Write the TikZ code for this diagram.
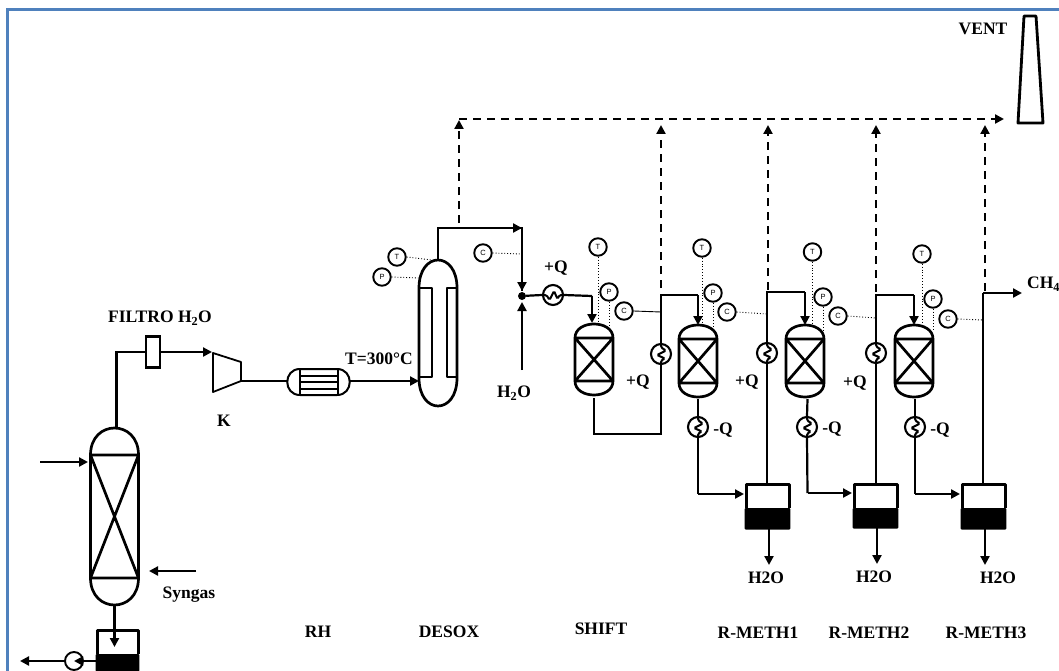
\documentclass[tikz,border=0pt]{standalone}
\usepackage{fontspec}
\setmainfont{Liberation Serif}
\newfontfamily\instfont{Liberation Sans}
\usetikzlibrary{arrows.meta,calc}
\definecolor{frameblue}{HTML}{4F81BD}
\tikzset{
  pipe/.style={line width=2.2pt,line join=miter,black},
  tip/.style={-{Triangle[length=9pt,width=9pt]}},
  dashline/.style={line width=2.2pt,dash pattern=on 8pt off 6pt,black},
  sig/.style={line width=0.9pt,dotted,black},
  wall/.style={line width=2.7pt,black,line join=round},
  lab/.style={font=\fontsize{17.5}{20}\selectfont\bfseries,inner sep=0pt,text=black},
  inst/.style={circle,draw=black,line width=1.9pt,minimum size=17.5pt,inner sep=0pt,fill=white,
     font=\instfont\fontsize{7.5}{8}\selectfont},
  hxc/.style={circle,draw=black,line width=2.1pt,minimum size=20pt,inner sep=0pt,fill=white},
  zig/.style={line width=2pt,black,rounded corners=1.5pt},
  box/.style={rectangle,inner sep=0pt,outer sep=0pt}
}
\newcommand\il[1]{\raisebox{-1.6pt}{#1}}
% capsule: name, cx, top, bottom, half width, dome height
\newcommand\vesselbox[6]{%
  \pgfmathsetmacro\vl{#2-#5}\pgfmathsetmacro\vr{#2+#5}%
  \pgfmathsetmacro\va{#3+#6}\pgfmathsetmacro\vb{#4-#6}%
  \pgfmathsetmacro\vta{#3-#6/3}\pgfmathsetmacro\vtb{#4+#6/3}%
  \pgfmathsetmacro\vh{#4-#3}\pgfmathsetmacro\vcy{(#3+#4)/2}\pgfmathsetmacro\vw{2*#5}%
  \node[box,minimum width=\vw pt,minimum height=\vh pt] (#1) at (#2,\vcy) {};
  \draw[wall,fill=white] (\vl,\va) .. controls (\vl,\vta) and (\vr,\vta) .. (\vr,\va)
     -- (\vr,\vb) .. controls (\vr,\vtb) and (\vl,\vtb) .. (\vl,\vb) -- cycle;
}
% packed bed reactor: name, cx, top, bottom, half width, dome height
\newcommand\reactor[6]{%
  \vesselbox{#1}{#2}{#3}{#4}{#5}{#6}
  \draw[wall] (\vl,\va) -- (\vr,\va) (\vl,\vb) -- (\vr,\vb)
     (\vl,\va) -- (\vr,\vb) (\vr,\va) -- (\vl,\vb);
}
% drum: name, left, top, right, bottom, liquid top
\newcommand\drum[6]{%
  \pgfmathsetmacro\dw{#4-#2}\pgfmathsetmacro\dh{#5-#3}%
  \pgfmathsetmacro\dx{(#2+#4)/2}\pgfmathsetmacro\dy{(#3+#5)/2}%
  \node[box,minimum width=\dw pt,minimum height=\dh pt] (#1) at (\dx,\dy) {};
  \fill[black,rounded corners=1pt] (#2-1.4,#6) rectangle (#4+1.4,#5+0.5);
  \draw[line width=3pt,black,line join=round] (#2,#6) -- (#2,#3) -- (#4,#3) -- (#4,#6);
}
% exchanger circle with a vertical zigzag
\newcommand\hxv[3]{%
  \node[hxc] (#1) at (#2,#3) {};
  \draw[zig] (#1.north) -- ($(#1)+(0,-6.5)$) -- ($(#1)+(5,-3.5)$) -- ($(#1)+(-4,1)$) -- ($(#1)+(4,4.5)$) -- ($(#1)+(0,6.5)$) -- (#1.south);
}
\newcommand\hxh[3]{%
  \node[hxc] (#1) at (#2,#3) {};
  \draw[zig] (#1.west) -- ($(#1)+(-6.5,0)$) -- ($(#1)+(-3.5,5)$) -- ($(#1)+(1,-4)$) -- ($(#1)+(4.5,4)$) -- ($(#1)+(6.5,0)$) -- (#1.east);
}
\begin{document}
\begin{tikzpicture}[x=1pt,y=-1pt]
\useasboundingbox (0,0) rectangle (1059,671);
\fill[white] (0,0) rectangle (1059,671);
\draw[line width=2.4pt,frameblue] (7.5,671) -- (7.5,9.5) -- (1059,9.5);

% --- column and its drum
\reactor{col}{114.5}{428}{605}{24}{27}
\drum{d0}{97}{630}{138}{671}{654}
\node[inst,minimum size=18pt] (pu) at (74,661) {};
\coordinate (colin) at (40,462);
\coordinate (colina) at (88,462);
\coordinate (colout) at (20,661);
\coordinate (syn) at (196,571);
\coordinate (syna) at (149,571);
\coordinate (d0in) at (114.5,647);
\draw[pipe,tip] (colin) -- (colina);
\draw[pipe,tip] (syn) -- (syna);
\draw[pipe,tip] (col.south) -- (d0in);
\draw[pipe,tip] (d0.west |- pu) -- (pu.center);
\draw[pipe,tip] (pu.west) -- (colout);

% --- filter, compressor, heater
\node[box,draw=black,line width=2.7pt,minimum width=14pt,minimum height=31pt,fill=white] (fil) at (153,352) {};
\coordinate (coltop) at (116.5,428);
\coordinate (b0) at (116.5,352);
\draw[pipe] (coltop) -- (b0) -- (fil.west);
\node[box,minimum width=28pt,minimum height=39pt] (comp) at (227,372) {};
\draw[line width=1.8pt,black,line join=round] (213,353) -- (241,362) -- (241,381) -- (213,392) -- cycle;
\coordinate (compin) at (212,352);
\coordinate (compout) at (241,381);
\draw[pipe,tip] (fil.east) -- (compin);
\node[box,minimum width=63pt,minimum height=26pt] (rh) at (318.5,382) {};
\draw[line width=2pt,black,fill=white] (300,369) -- (337,369) .. controls (354,369) and (354,395) .. (337,395)
  -- (300,395) .. controls (283,395) and (283,369) .. (300,369) -- cycle;
\draw[line width=2pt,black] (300,369) -- (300,395) (338,369) -- (338,395)
  (300,376) -- (338,376) (300,382) -- (338,382) (300,388.5) -- (338,388.5);
\coordinate (rhin) at (287,381);
\coordinate (rhout) at (350,381);
\draw[pipe] (compout) -- (rhin);

% --- desulphuriser
\vesselbox{dx}{438}{260}{406}{19}{28}
\draw[wall] (419,288) -- (432,288) -- (432,377) -- (419,377) (457,288) -- (447,288) -- (447,377) -- (457,377);
\coordinate (dxin) at (419,381);
\draw[pipe,tip] (rhout) -- (dxin);
\coordinate (b1) at (438,228);
\coordinate (b2) at (522,228);
\coordinate (mixt) at (522,291);
\coordinate (w) at (522,370);
\coordinate (wa) at (522,302);
\node[circle,fill=black,minimum size=8pt,inner sep=0pt] (mix) at (522,296) {};
\draw[pipe] (dx.north) -- (b1) -- (b2) -- (mixt);
\draw[pipe,tip] (b1) -- (b2);
\draw[pipe,tip] (b2) -- (mixt);
\draw[pipe,tip] (w) -- (wa);
\node[inst] (tx) at (397,257) {\il{T}};
\node[inst] (px) at (382,277) {\il{P}};
\node[inst] (cx) at (483,253) {\il{C}};
\coordinate (txe) at (432,260);
\coordinate (pxe) at (419,278);
\coordinate (cxe) at (522,254);
\draw[sig] (tx.east) -- (txe);
\draw[sig] (px.east) -- (pxe);
\draw[sig] (cx.east) -- (cxe);

% --- reactors
\reactor{r1}{594}{324}{395}{19}{14}
\reactor{r2}{698}{325}{397}{19}{14}
\reactor{r3}{805}{325}{397}{19}{14}
\reactor{r4}{914}{325}{397}{19}{14}

% --- shift stage
\hxh{h0}{553}{295}
\coordinate (a0) at (592,296);
\coordinate (a0e) at (592,323);
\draw[pipe] (mix) -- (h0.west);
\draw[pipe] (h0.east) -- (a0);
\draw[pipe,tip] (a0) -- (a0e);
\coordinate (s0) at (594,398);
\coordinate (s1) at (594,434);
\coordinate (s2) at (661,434);
\coordinate (s3) at (661,295);
\coordinate (s4) at (698,295);
\coordinate (s5) at (698,325);
\hxv{h1}{661}{354}
\draw[pipe] (s0) -- (s1) -- (s2) -- (h1.south);
\draw[pipe] (h1.north) -- (s3) -- (s4);
\draw[pipe,tip] (s4) -- (s5);

% --- drums
\drum{d1}{746}{484}{789}{529}{508}
\drum{d2}{854}{484}{897}{528}{508}
\drum{d3}{962}{484}{1005}{529}{508}

% --- methanation loops
\hxv{c1}{698}{427}
\hxv{c2}{807}{427}
\hxv{c3}{915}{427}
\coordinate (r2o) at (698,399);
\coordinate (r3o) at (807.5,399);
\coordinate (r4o) at (915,399);
\coordinate (e1) at (698,494);
\coordinate (e2) at (807.5,493);
\coordinate (e3) at (915,494);
\coordinate (e1a) at (744,494);
\coordinate (e2a) at (852,493);
\coordinate (e3a) at (960,494);
\draw[pipe] (r2o) -- (c1.north);
\draw[pipe] (r3o) -- (c2.north);
\draw[pipe] (r4o) -- (c3.north);
\draw[pipe] (c1.south) -- (e1);
\draw[pipe] (c2.south) -- (e2);
\draw[pipe] (c3.south) -- (e3);
\draw[pipe,tip] (e1) -- (e1a);
\draw[pipe,tip] (e2) -- (e2a);
\draw[pipe,tip] (e3) -- (e3a);

\hxv{h2}{767}{353}
\hxv{h3}{876}{353}
\coordinate (t1) at (767,484);
\coordinate (t2) at (876,484);
\coordinate (t3) at (983,484);
\coordinate (u1) at (767,292);
\coordinate (u2) at (805,292);
\coordinate (u3) at (805,325);
\coordinate (v1) at (876,295);
\coordinate (v2) at (914,295);
\coordinate (v3) at (914,325);
\coordinate (w1) at (983,293);
\coordinate (w2) at (1022,293);
\draw[pipe] (t1) -- (h2.south);
\draw[pipe] (h2.north) -- (u1) -- (u2);
\draw[pipe,tip] (u2) -- (u3);
\draw[pipe] (t2) -- (h3.south);
\draw[pipe] (h3.north) -- (v1) -- (v2);
\draw[pipe,tip] (v2) -- (v3);
\draw[pipe] (t3) -- (w1);
\draw[pipe,tip] (w1) -- (w2);

\coordinate (o1) at (769,565);
\coordinate (o2) at (877,564);
\coordinate (o3) at (985,565);
\draw[pipe,tip] (d1.south -| o1) -- (o1);
\draw[pipe,tip] (d2.south -| o2) -- (o2);
\draw[pipe,tip] (d3.south -| o3) -- (o3);

% --- instruments
\node[inst] (t1i) at (598,247) {\il{T}};
\node[inst] (p1i) at (609,292) {\il{P}};
\node[inst] (c1i) at (624,311) {\il{C}};
\node[inst] (t2i) at (702,248) {\il{T}};
\node[inst] (p2i) at (713,293) {\il{P}};
\node[inst] (c2i) at (727,312) {\il{C}};
\node[inst] (t3i) at (812.5,252) {\il{T}};
\node[inst] (p3i) at (823,297) {\il{P}};
\node[inst] (c3i) at (838,316) {\il{C}};
\node[inst] (t4i) at (922,254) {\il{T}};
\node[inst] (p4i) at (933,299) {\il{P}};
\node[inst] (c4i) at (948,319) {\il{C}};
\coordinate (t1e) at (598,324);
\coordinate (p1e) at (609,329);
\coordinate (c1e) at (661,312);
\coordinate (t2e) at (702,325);
\coordinate (p2e) at (713,329);
\coordinate (c2e) at (767,314);
\coordinate (t3e) at (812.5,325);
\coordinate (p3e) at (823,330);
\coordinate (c3e) at (876,318);
\coordinate (t4e) at (922,325);
\coordinate (p4e) at (933,331);
\coordinate (c4e) at (983,320);
\draw[sig] (t1i.south) -- (t1e);
\draw[sig] (p1i.south) -- (p1e);
\draw[line width=0.9pt,black] (c1i.east) -- (c1e);
\draw[sig] (t2i.south) -- (t2e);
\draw[sig] (p2i.south) -- (p2e);
\draw[sig] (c2i.east) -- (c2e);
\draw[sig] (t3i.south) -- (t3e);
\draw[sig] (p3i.south) -- (p3e);
\draw[sig] (c3i.east) -- (c3e);
\draw[sig] (t4i.south) -- (t4e);
\draw[sig] (p4i.south) -- (p4e);
\draw[sig] (c4i.east) -- (c4e);

% --- vent header
\node[box,minimum width=25pt,minimum height=107pt] (stack) at (1030.5,69.5) {};
\draw[line width=2.8pt,black,line join=round] (1024,16) -- (1036,16) -- (1043,123) -- (1018,123) -- cycle;
\coordinate (hd0) at (459,119);
\coordinate (hd1) at (1004,119);
\coordinate (q0) at (459,223);
\coordinate (q0a) at (459,120);
\coordinate (q1) at (661,288);
\coordinate (q1a) at (661,125);
\coordinate (q2) at (768,290);
\coordinate (q2a) at (768,125);
\coordinate (q3) at (876,292);
\coordinate (q3a) at (876,125);
\coordinate (q4) at (985,291);
\coordinate (q4a) at (985,125);
\draw[dashline,tip] (hd0) -- (hd1);
\draw[dashline,tip] (q0) -- (q0a);
\draw[dashline,tip] (q1) -- (q1a);
\draw[dashline,tip] (q2) -- (q2a);
\draw[dashline,tip] (q3) -- (q3a);
\draw[dashline,tip] (q4) -- (q4a);

% --- labels
\node[lab] (lf) at (160,318) {FILTRO H\textsubscript{2}O};
\node[lab] (lk) at (224,421) {K};
\node[lab] (ls) at (189,595) {Syngas};
\node[lab] (lrh) at (318,632) {RH};
\node[lab] (lt) at (379,359) {T=300°C};
\node[lab] (lw) at (514,393) {H\textsubscript{2}O};
\node[lab] (lq0) at (556,268) {+Q};
\node[lab] (lq1) at (638,382) {+Q};
\node[lab] (lq2) at (747,382) {+Q};
\node[lab] (lq3) at (855,383) {+Q};
\node[lab] (ln1) at (723,430) {-Q};
\node[lab] (ln2) at (832,429) {-Q};
\node[lab] (ln3) at (940,430) {-Q};
\node[lab] (lo1) at (766,578) {H2O};
\node[lab] (lo2) at (874,577) {H2O};
\node[lab] (lo3) at (998,578) {H2O};
\node[lab] (ld) at (449,632) {DESOX};
\node[lab] (lsh) at (601,629) {SHIFT};
\node[lab] (lm1) at (758,633) {R-METH1};
\node[lab] (lm2) at (869,633) {R-METH2};
\node[lab] (lm3) at (986,633) {R-METH3};
\node[lab] (lv) at (983,29) {VENT};
\node[lab,anchor=west] (lc) at (1027,284) {CH\textsubscript{4}};
\end{tikzpicture}
\end{document}
